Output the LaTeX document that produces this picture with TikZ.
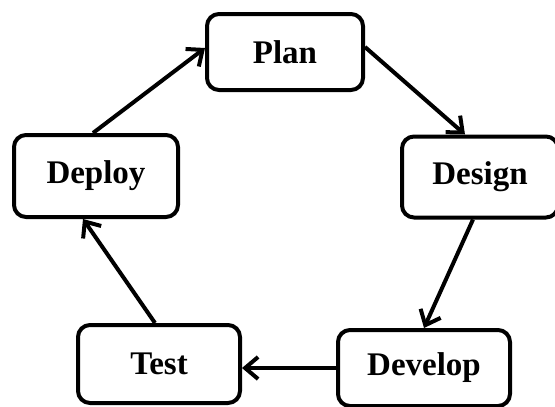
\documentclass[tikz,border=0pt]{standalone}
\usepackage{fontspec}
\setmainfont{Liberation Serif}
\usetikzlibrary{arrows.meta}
\begin{document}
\begin{tikzpicture}

% definitions
\tikzstyle{stage} = [rectangle, rounded corners=12pt, minimum height=76pt, text centered, draw=black, line width=4pt, fill=white, font=\fontsize{33}{36}\selectfont\bfseries]

\tikzstyle{arrow} = [-{Straight Barb[length=13pt,width=22pt]}, line width=4pt]

\useasboundingbox (0,0) rectangle (555pt,-407pt);

% the graph
\node (plan) [stage, minimum width=156pt] at (285pt,-52pt) {Plan};

\node (design) [stage, minimum width=156pt, minimum height=81pt] at (480pt,-177pt) {Design};

\node (develop) [stage, minimum width=172pt] at (424pt,-368pt) {Develop};

\node (test) [stage, minimum width=162pt, minimum height=78pt] at (159pt,-364pt) {Test};

\node (deploy) [stage, minimum width=164pt, minimum height=82pt] at (96pt,-176pt) {Deploy};

\draw [arrow] ([yshift=5pt]plan.east) -- ([xshift=-15pt]design.north);
\draw [arrow] ([xshift=-7pt]design.south) -- (develop.north);
\draw [arrow] (develop.west) -- (develop.west -| test.east);
\draw [arrow] ([xshift=-4pt]test.north) -- ([xshift=-13pt]deploy.south);
\draw [arrow] ([xshift=-3pt]deploy.north) -- ([yshift=4pt]plan.west);

\end{tikzpicture}
\end{document}
